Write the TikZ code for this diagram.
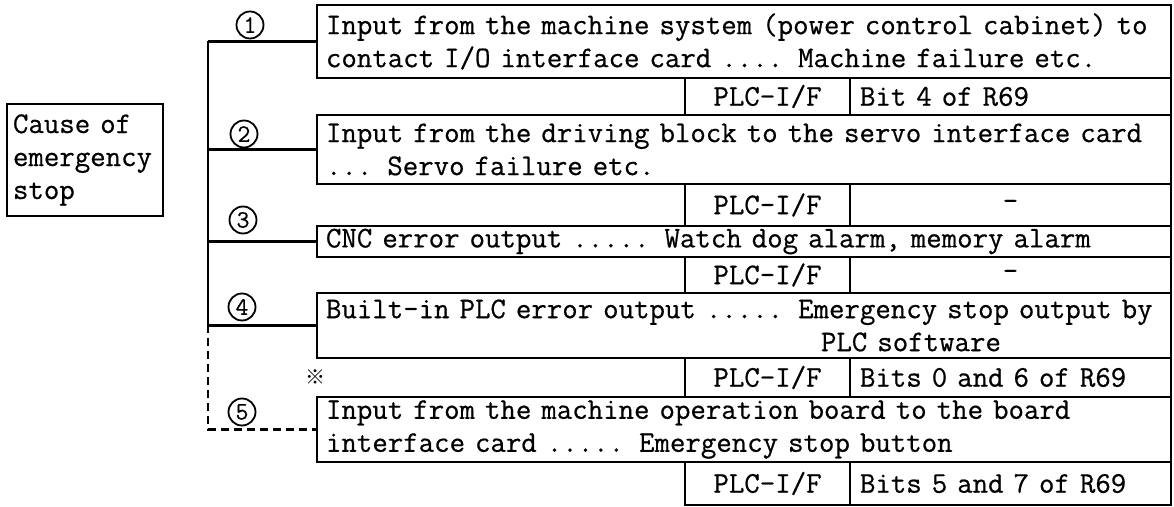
\documentclass[tikz,border=0pt]{standalone}
\usepackage{fontspec}
\setmonofont[FakeBold=0.6]{Latin Modern Mono}
\newfontfamily\cjkfont{Noto Sans CJK JP}
\usetikzlibrary{positioning}

\begin{document}
\begin{tikzpicture}[x=0.5pt, y=-0.5pt,
    every node/.style={font=\fontsize{15}{16.5}\selectfont\ttfamily, outer sep=0pt},
    cause box/.style={draw, line width=1pt, align=left, text width=72pt, minimum height=56pt, inner xsep=3pt},
    text box/.style={draw, line width=1pt, align=left, text width=418pt, minimum width=427pt, inner xsep=4.5pt, inner ysep=1pt},
    plc cell/.style={draw, line width=1pt, minimum width=82.5pt, align=center, inner xsep=0pt, inner ysep=1pt},
    bit cell/.style={draw, line width=1pt, text width=150.5pt, inner xsep=5pt, inner ysep=1pt, align=left},
    dash cell/.style={bit cell, align=center},
    num/.style={circle, draw, line width=0.9pt, minimum size=13.5pt, inner sep=0pt, font=\fontsize{12.5}{12.5}\selectfont\ttfamily},
    trunk/.style={line width=1.2pt}]

    \useasboundingbox (0,0) rectangle (1174,507);

    \node[cause box, anchor=north west] (cause) at (7,104) {Cause of\\emergency\\stop};

    \node[text box, anchor=north west, minimum height=36.5pt] (b1) at (317,5)
        {Input from the machine system (power control cabinet) to\\contact I/O interface card .... Machine failure etc.};
    \node[bit cell, anchor=north east, minimum height=18.5pt] (v1) at (b1.south east) {Bit 4 of R69};
    \node[plc cell, minimum height=18.5pt, left=0pt of v1] (l1) {PLC-I/F};

    \node[text box, anchor=north east, minimum height=34.5pt] (b2) at (v1.south east)
        {Input from the driving block to the servo interface card\\... Servo failure etc.};
    \node[dash cell, anchor=north east, minimum height=21pt] (v2) at (b2.south east) {-};
    \node[plc cell, minimum height=21pt, left=0pt of v2] (l2) {PLC-I/F};

    \node[text box, anchor=north east, minimum height=15.5pt] (b3) at (v2.south east)
        {CNC error output ..... Watch dog alarm, memory alarm};
    \node[dash cell, anchor=north east, minimum height=18pt] (v3) at (b3.south east) {-};
    \node[plc cell, minimum height=18pt, left=0pt of v3] (l3) {PLC-I/F};

    \node[text box, anchor=north east, minimum height=32.5pt] (b4) at (v3.south east)
        {Built-in PLC error output ..... Emergency stop output by\\\hspace*{16.5em}PLC software};
    \node[bit cell, anchor=north east, minimum height=19.5pt] (v4) at (b4.south east) {Bits 0 and 6 of R69};
    \node[plc cell, minimum height=19.5pt, left=0pt of v4] (l4) {PLC-I/F};

    \node[text box, anchor=north east, minimum height=32.5pt] (b5) at (v4.south east)
        {Input from the machine operation board to the board\\interface card ..... Emergency stop button};
    \node[bit cell, anchor=north east, minimum height=21.5pt] (v5) at (b5.south east) {Bits 5 and 7 of R69};
    \node[plc cell, minimum height=21.5pt, left=0pt of v5] (l5) {PLC-I/F};

    \node[num] (n1) at (250,25) {1};
    \node[num] (n2) at (244,134) {2};
    \node[num] (n3) at (243,220) {3};
    \node[num] (n4) at (242,307) {4};
    \node[num] (n5) at (242,412) {5};
    \node[font=\cjkfont\fontsize{10}{10}\selectfont] (mark) at (315,377) {※};

    \coordinate (t) at (208,0);
    \draw[trunk] (t |- b1.west) -- (t |- b4.west);
    \foreach \i in {1,...,4}
        \draw[trunk] (t |- b\i.west) -- (b\i.west);
    \draw[trunk, dash pattern=on 4pt off 2.5pt] (t |- b4.west) -- (t |- b5.west) -- (b5.west);
\end{tikzpicture}
\end{document}
